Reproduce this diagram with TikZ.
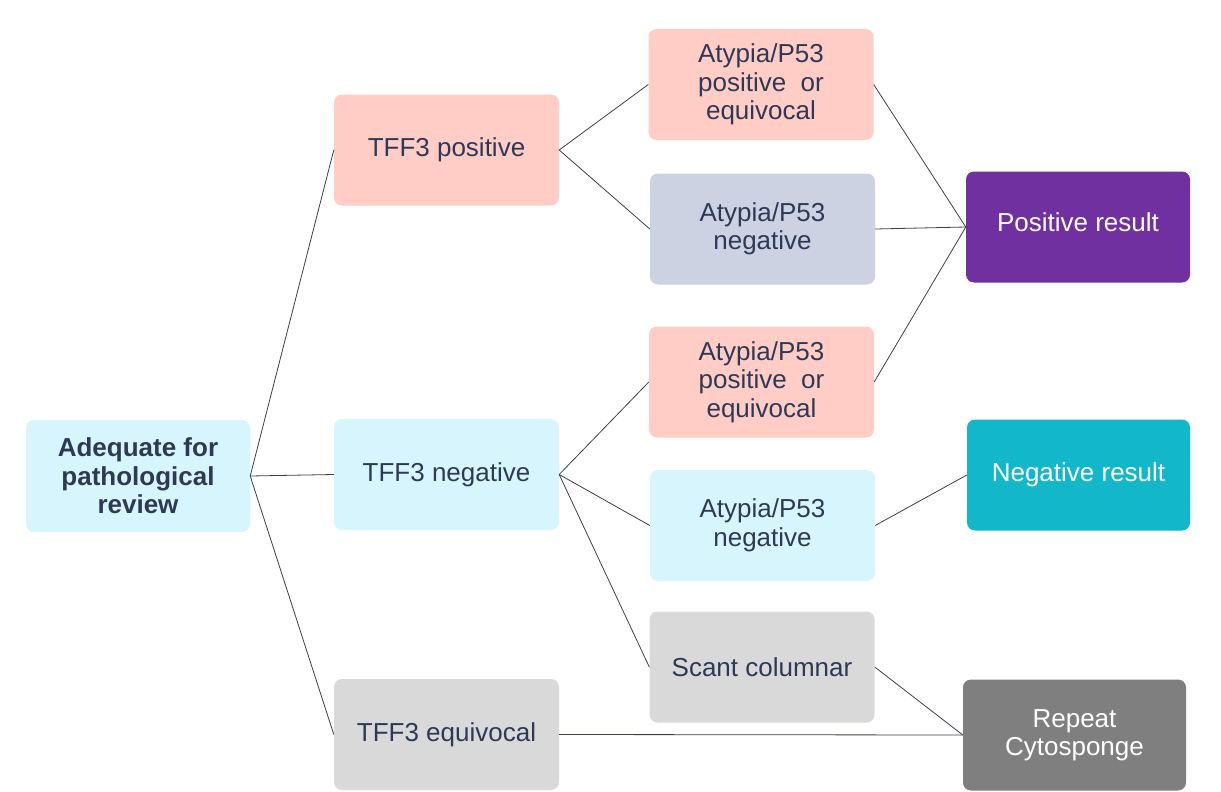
\documentclass[tikz,border=0pt]{standalone}
\usepackage{fontspec}
\setmainfont{Liberation Sans}
\definecolor{txt}{HTML}{2E3A55}
\definecolor{pinkf}{HTML}{FFCDC6}
\definecolor{cyanf}{HTML}{D7F5FC}
\definecolor{grayf}{HTML}{D9D9D9}
\definecolor{bluegf}{HTML}{CCD2E2}
\definecolor{purplef}{HTML}{7030A0}
\definecolor{tealf}{HTML}{12B7C9}
\definecolor{dgrayf}{HTML}{7F7F7F}
\definecolor{linec}{HTML}{3A3F4A}
\begin{document}
\begin{tikzpicture}[x=1pt,y=-1pt,
  box/.style={rounded corners=8pt, minimum width=225pt, minimum height=111pt, inner sep=0pt,
    align=center, text=txt, font=\fontsize{26}{28.5}\selectfont},
  conn/.style={draw=linec, line width=0.8pt}]
\useasboundingbox (0,0) rectangle (1221,792);
\fill[white] (0,0) rectangle (1221,792);
\node[box, fill=cyanf, font=\fontsize{26}{28.5}\selectfont\bfseries, minimum width=224pt, minimum height=112pt] (adq) at (138,476) {Adequate for\\pathological\\review};
\node[box, fill=pinkf] (tpos) at (446.5,150) {TFF3 positive};
\node[box, fill=cyanf] (tneg) at (446.5,474.5) {TFF3 negative};
\node[box, fill=grayf] (tequ) at (446.5,734.5) {TFF3 equivocal};
\node[box, fill=pinkf] (apos1) at (761,84.5) {Atypia/P53\\positive ~or\\equivocal};
\node[box, fill=bluegf] (aneg1) at (762.5,229) {Atypia/P53\\negative};
\node[box, fill=pinkf] (apos2) at (761.5,382) {Atypia/P53\\positive ~or\\equivocal};
\node[box, fill=cyanf] (aneg2) at (762.5,525.5) {Atypia/P53\\negative};
\node[box, fill=grayf] (scant) at (762,667) {Scant columnar};
\node[box, fill=purplef, text=white, minimum width=224pt] (posr) at (1078,227) {\raisebox{9pt}{Positive result}};
\node[box, fill=tealf, text=white, minimum width=223pt] (negr) at (1078.5,475) {Negative result};
\node[box, fill=dgrayf, text=white, minimum width=223pt] (rep) at (1074.5,735) {Repeat\\Cytosponge};
\draw[conn] (adq.east) -- (tpos.west);
\draw[conn] (adq.east) -- (tneg.west);
\draw[conn] (adq.east) -- (tequ.west);
\draw[conn] (tpos.east) -- (apos1.west);
\draw[conn] (tpos.east) -- (aneg1.west);
\draw[conn] (tneg.east) -- (apos2.west);
\draw[conn] (tneg.east) -- (aneg2.west);
\draw[conn] (tneg.east) -- (scant.west);
\draw[conn] (apos1.east) -- (posr.west);
\draw[conn] (aneg1.east) -- (posr.west);
\draw[conn] (apos2.east) -- (posr.west);
\draw[conn] (aneg2.east) -- (negr.west);
\draw[conn] (scant.east) -- (rep.west);
\draw[conn] (tequ.east) -- (rep.west);
\end{tikzpicture}
\end{document}
